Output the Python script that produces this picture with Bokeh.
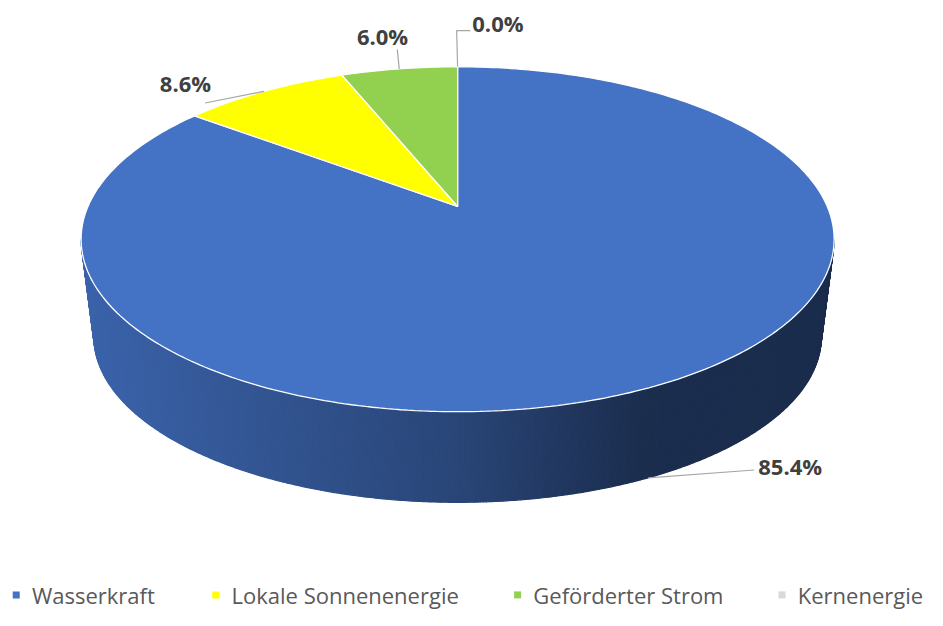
import numpy as np
from bokeh.plotting import figure
from bokeh.models import Range1d
from bokeh.embed import file_html
from bokeh.resources import INLINE
from bokeh.core.properties import value

# ---------------- data ----------------
categories = ["Wasserkraft", "Lokale Sonnenenergie", "Geförderter Strom", "Kernenergie"]
shares = [85.4, 8.6, 6.0, 0.0]
colors = ["#4472C4", "#FFFF00", "#92D050", "#D9D9D9"]

# ---------------- layout / styling ----------------
W, H = 943, 626
CX, CY, RX, RY = 465.0, 245.0, 383.0, 177.0       # top face ellipse
BCY, BRX, BRY = 345.0, 370.0, 170.0               # bottom rim ellipse
T = 0.19                                          # perspective strength
LABEL_FONT = value("Open Sans")
LABEL_COLOR = "#404040"
LEADER_COLOR = "#A6A6A6"

# label placement offsets relative to the leader anchor
label_layout = [
    dict(path=[(108, -8)], text=(112, -12), align="left"),
    dict(path=[(-60, 12)], text=(-80, -8), align="center"),
    dict(path=[(-2, -20)], text=(-17, -34), align="center"),
    dict(path=[(-1, -37), (13, -37)], text=(41, -45), align="center"),
]
legend_x = [16, 219, 526, 795]
legend_y = 610


def apparent(a):
    """map a true pie angle (clockwise from back) to the projected ellipse parameter"""
    a = np.asarray(a, dtype=float)
    c = np.cos(a)
    ap = np.arccos(np.clip((c + T) / (1 + T * c), -1, 1))
    return np.where(a > np.pi, 2 * np.pi - ap, ap)


def top_pt(b):
    return CX + RX * np.sin(b), CY - RY * np.cos(b)


def bot_pt(b):
    return CX + BRX * np.sin(b), BCY - BRY * np.cos(b)


def hex_rgb(h):
    h = h.lstrip("#")
    return tuple(int(h[i:i + 2], 16) for i in (0, 2, 4))


def shade(hexcol, f):
    r, g, b = hex_rgb(hexcol)
    return "#%02x%02x%02x" % (int(round(r * f)), int(round(g * f)), int(round(b * f)))


total = sum(shares)
cum = np.concatenate([[0.0], np.cumsum(shares)]) / total * 2 * np.pi
starts, ends = cum[:-1], cum[1:]
ap_start, ap_end = apparent(starts), apparent(ends)

p = figure(width=927, height=610, x_range=Range1d(0, W), y_range=Range1d(H, 0),
           output_backend="svg", toolbar_location=None, min_border=0,
           x_axis_location=None, y_axis_location=None)
p.grid.visible = False
p.outline_line_color = None
p.background_fill_color = "white"

# ---------------- side wall (front half), shaded strips ----------------
edges = np.linspace(np.pi / 2, 3 * np.pi / 2, 401)
sxs, sys_, scol = [], [], []
for b0, b1 in zip(edges[:-1], edges[1:]):
    bm = 0.5 * (b0 + b1)
    idx = [i for i in range(len(shares)) if shares[i] > 0 and ap_start[i] <= bm < ap_end[i]]
    if not idx:
        continue
    i = idx[0]
    tx0, ty0 = top_pt(b0)
    tx1, ty1 = top_pt(b1)
    bx1, by1 = bot_pt(b1)
    bx0, by0 = bot_pt(b0)
    u = (0.5 * (tx0 + tx1) - CX) / RX
    f = np.interp(u, [-1, -0.74, -0.35, 0, 0.3, 0.5, 1], [0.87, 0.80, 0.70, 0.61, 0.48, 0.40, 0.39])
    sxs.append([tx0, tx1, bx1, bx0])
    sys_.append([ty0, ty1, by1, by0])
    scol.append(shade(colors[i], f))
p.patches(sxs, sys_, fill_color=scol, line_color=scol, line_width=1.2)

# ---------------- top face slices ----------------
apex = (CX, CY - RY * T)
txs, tys, tcol = [], [], []
for i, s in enumerate(shares):
    if s <= 0:
        continue
    a = np.linspace(starts[i], ends[i], max(3, int(s * 4)))
    x, y = top_pt(apparent(a))
    txs.append([apex[0]] + list(x))
    tys.append([apex[1]] + list(y))
    tcol.append(colors[i])
p.patches(txs, tys, fill_color=tcol, line_color="white", line_width=1.3)

# ---------------- data labels with leader lines ----------------
for i, s in enumerate(shares):
    mid = apparent(0.5 * (starts[i] + ends[i]))
    if np.pi / 2 < mid < 3 * np.pi / 2:
        ax, ay = bot_pt(mid)
    else:
        ax, ay = top_pt(mid)
    lay = label_layout[i]
    lx = [ax] + [ax + dx for dx, dy in lay["path"]]
    ly = [ay] + [ay + dy for dx, dy in lay["path"]]
    p.line(lx, ly, line_color=LEADER_COLOR, line_width=1.2)
    p.text([ax + lay["text"][0]], [ay + lay["text"][1]], text=[f"{s:.1f}%"],
           text_font=LABEL_FONT, text_font_size="22px", text_font_style="bold",
           text_color=LABEL_COLOR, text_align=lay["align"], text_baseline="middle")

# ---------------- legend ----------------
p.scatter(legend_x, [legend_y] * 4, marker="square", size=7, fill_color=colors, line_color=None)
p.text([x + 16 for x in legend_x], [legend_y] * 4, text=categories,
       text_font=LABEL_FONT, text_font_size="22px", text_color="#595959",
       text_align="left", text_baseline="middle")

open("out.html", "w").write(file_html(p, INLINE))
